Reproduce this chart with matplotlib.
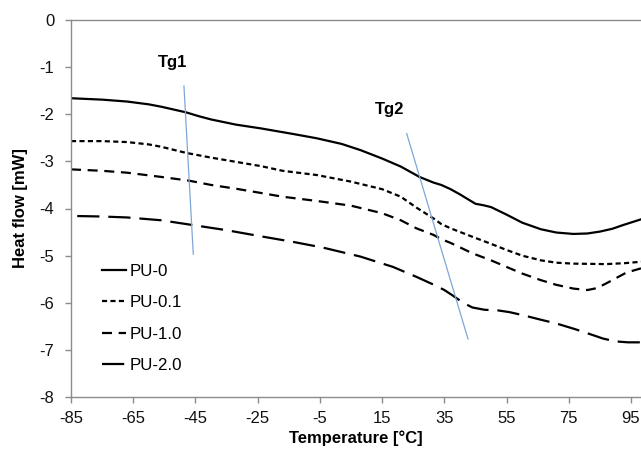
import matplotlib
matplotlib.use("Agg")
import matplotlib.pyplot as plt

plt.rcParams['font.family'] = ['Liberation Sans', 'DejaVu Sans']

# Data
pu0_x = [-85, -75, -67, -60, -56, -52, -48, -44, -40, -32, -24, -13.5, -6, 2, 8, 15, 21, 27, 31.5, 34, 37, 40, 45, 47.5, 50, 55, 60, 66, 71, 76.5, 81, 85, 89, 92.5, 98.2]
pu0_y = [-1.66, -1.69, -1.73, -1.79, -1.84, -1.90, -1.96, -2.04, -2.11, -2.22, -2.30, -2.42, -2.51, -2.63, -2.76, -2.94, -3.11, -3.33, -3.45, -3.50, -3.59, -3.70, -3.90, -3.93, -3.97, -4.13, -4.30, -4.44, -4.51, -4.54, -4.53, -4.49, -4.43, -4.35, -4.23]

pu01_x = [-85, -75, -67, -60, -56, -48, -40, -32, -24, -17, -6, 5, 15, 21, 26, 31.5, 34, 37, 44, 50, 55, 60, 66, 71, 76.5, 87, 93, 98.2]
pu01_y = [-2.57, -2.57, -2.59, -2.64, -2.69, -2.82, -2.92, -3.01, -3.10, -3.20, -3.29, -3.43, -3.59, -3.75, -3.98, -4.21, -4.33, -4.42, -4.60, -4.75, -4.88, -5.00, -5.10, -5.15, -5.17, -5.18, -5.16, -5.13]

pu10_x = [-85, -75, -67, -56, -47, -40, -32, -24, -17, -6, 5, 15, 21, 26, 31.5, 34, 37, 44, 50, 55, 60, 66, 71, 76.5, 81, 84, 87, 93.5, 98.2]
pu10_y = [-3.17, -3.20, -3.24, -3.33, -3.41, -3.50, -3.58, -3.67, -3.75, -3.84, -3.94, -4.10, -4.25, -4.42, -4.56, -4.65, -4.73, -4.95, -5.10, -5.24, -5.38, -5.52, -5.62, -5.70, -5.73, -5.69, -5.59, -5.36, -5.27]

pu20_x = [-83, -75, -67, -56, -46, -35, -24, -13.5, -4, 8, 18.5, 26, 29, 32, 35, 38, 41, 44, 48, 52, 56, 60, 66, 71, 77, 82, 86, 90, 94, 98.2]
pu20_y = [-4.16, -4.17, -4.19, -4.25, -4.35, -4.46, -4.59, -4.71, -4.83, -5.02, -5.24, -5.45, -5.54, -5.63, -5.73, -5.86, -6.00, -6.10, -6.15, -6.16, -6.20, -6.26, -6.36, -6.44, -6.56, -6.67, -6.76, -6.82, -6.84, -6.84]

tg1_x = [-48.7, -45.7]
tg1_y = [-1.40, -4.97]
tg2_x = [22.9, 42.6]
tg2_y = [-2.41, -6.77]

labels = ['PU-0', 'PU-0.1', 'PU-1.0', 'PU-2.0']
x_ticks = [-85, -65, -45, -25, -5, 15, 35, 55, 75, 95]
y_ticks = [0, -1, -2, -3, -4, -5, -6, -7, -8]

fig = plt.figure(figsize=(6.41, 4.49), dpi=100)
ax = fig.add_axes([71/641, 1 - 397/449, 1 - 71/641, 377/449])

lw = 1.6
styles = [
    dict(linestyle='-'),
    dict(dashes=(2.3, 1.5)),
    dict(dashes=(4.5, 3.0)),
    dict(dashes=(10, 4)),
]
series = [(pu0_x, pu0_y), (pu01_x, pu01_y), (pu10_x, pu10_y), (pu20_x, pu20_y)]
for (xs, ys), st, lab in zip(series, styles, labels):
    ax.plot(xs, ys, color='black', lw=lw, label=lab, solid_joinstyle='round', **st)

ax.plot(tg1_x, tg1_y, color='#7fa6d8', lw=0.9)
ax.plot(tg2_x, tg2_y, color='#7fa6d8', lw=0.9)
ax.text(-52.5, -0.91, 'Tg1', fontsize=12, fontweight='bold', ha='center', va='center')
ax.text(17.5, -1.89, 'Tg2', fontsize=12, fontweight='bold', ha='center', va='center')

ax.set_xlim(-85, 98.2)
ax.set_ylim(-8, 0)
ax.set_xticks(x_ticks)
ax.set_yticks(y_ticks)
ax.set_yticklabels([str(v) for v in y_ticks])
ax.set_xticklabels([str(v) for v in x_ticks])

for s in ['left', 'bottom', 'top']:
    ax.spines[s].set_color('#8c8c8c')
    ax.spines[s].set_linewidth(1.0)
ax.spines['right'].set_visible(False)
ax.tick_params(axis='both', direction='out', length=4, width=1.0, color='#8c8c8c',
               labelsize=12, labelcolor='#111111')
ax.tick_params(axis='x', pad=6)
ax.tick_params(axis='y', pad=8)

ax.set_xlabel('Temperature [°C]', fontsize=12, fontweight='bold', labelpad=3)
ax.set_ylabel('Heat flow [mW]', fontsize=12, fontweight='bold', labelpad=8)

leg = ax.legend(loc='upper left', bbox_to_anchor=(0.033, 0.385), frameon=False,
                fontsize=12.2, handlelength=1.45, handletextpad=0.2, labelspacing=0.97,
                borderpad=0.2)

fig.savefig('out.png', dpi=100)
